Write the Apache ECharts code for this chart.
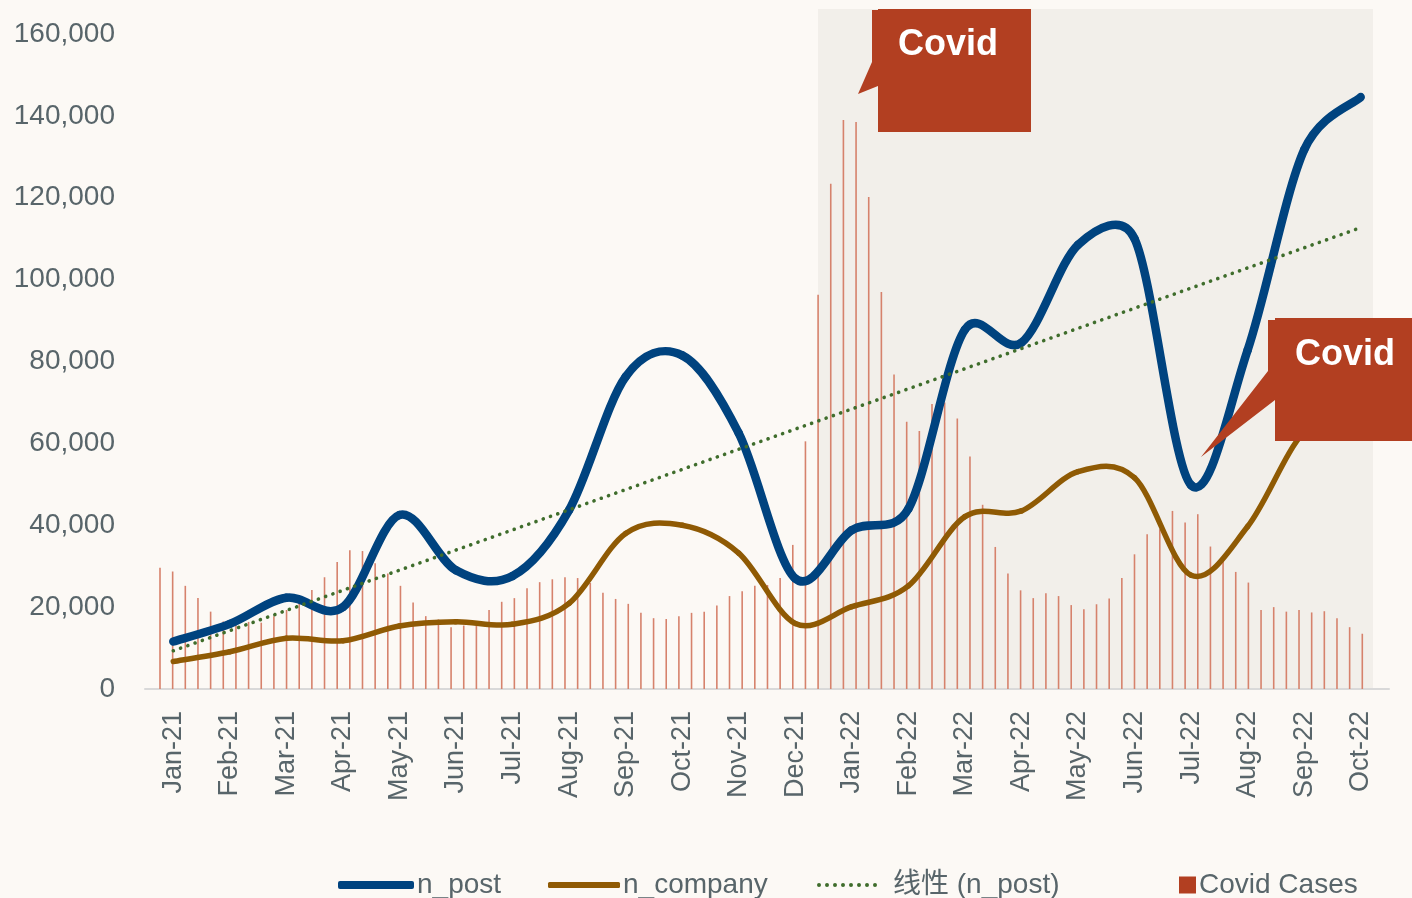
<!DOCTYPE html>
<html lang="en">
<head>
<meta charset="UTF-8">
<title>n_post / n_company and Covid cases</title>
<script src="https://cdn.jsdelivr.net/npm/echarts@6/dist/echarts.min.js"></script>
<style>
  html, body { margin: 0; padding: 0; background: #fcf9f5; }
  #chart { width: 1412px; height: 898px; }
</style>
</head>
<body>
<div id="chart"></div>
<script>
// monthly categories
const months = ['Jan-21', 'Feb-21', 'Mar-21', 'Apr-21', 'May-21', 'Jun-21', 'Jul-21', 'Aug-21',
  'Sep-21', 'Oct-21', 'Nov-21', 'Dec-21', 'Jan-22', 'Feb-22', 'Mar-22', 'Apr-22', 'May-22',
  'Jun-22', 'Jul-22', 'Aug-22', 'Sep-22', 'Oct-22'];

const nPost = [11600, 15900, 22300, 20000, 42500, 29000, 27600, 43700, 76300, 81500, 62500,
  27000, 38800, 44000, 87800, 84600, 108500, 110000, 49800, 82800, 131700, 144600];

const nCompany = [6700, 9100, 12400, 11800, 15400, 16400, 15800, 20900, 38000, 40000, 33200,
  16000, 20100, 25200, 42100, 43500, 53100, 51600, 27800, 39700, 62800, 68000];

// weekly covid cases (one bar per week, Jan-21 .. Oct-22)
const covidCases = [
  29600, 28700, 25200, 22200, 18900, 16500, 16000, 16400, 16200, 17800,
  19300, 21800, 24200, 27300, 31000, 33900, 33700, 30700, 28200, 25200,
  21100, 17800, 17000, 15100, 15500, 15500, 19300, 21300, 22200, 24600,
  26100, 26800, 27300, 27100, 25900, 23500, 22000, 20800, 18600, 17300,
  17100, 17800, 18600, 18900, 20400, 22700, 23900, 25200, 25400, 27100,
  35200, 60500, 96300, 123400, 139000, 138500, 120200, 97000, 76800, 65300,
  63000, 69600, 70000, 66100, 56800, 45000, 34700, 28200, 24100, 22200,
  23400, 22700, 20500, 19500, 20700, 22100, 27100, 32900, 37800, 39000,
  43500, 40700, 42700, 34800, 31500, 28600, 26000, 19300, 20000, 18900,
  19300, 18700, 19000, 17300, 15100, 13500
];

const yTicks = { min: 0, max: 160000, interval: 20000 };

// linear trend of n_post (like the spreadsheet trendline)
function linearTrend(vals) {
  const n = vals.length;
  let sx = 0, sy = 0, sxy = 0, sxx = 0;
  vals.forEach(function (v, i) { sx += i; sy += v; sxy += i * v; sxx += i * i; });
  const slope = (n * sxy - sx * sy) / (n * sxx - sx * sx);
  const icpt = (sy - slope * sx) / n;
  return vals.map(function (v, i) { return Math.round(icpt + slope * i); });
}
const trend = linearTrend(nPost);

const font = "'Liberation Sans', 'Noto Sans CJK SC', sans-serif";
const txtColor = '#58656a';
const red = '#b23f21';
const blue = '#00437f';
const brown = '#8f5a04';
const green = '#3f6d2c';

// row of dots for the trendline legend icon
let dots = 'path://';
for (let k = 0; k < 8; k++) {
  let cx = 2 + 8 * k;
  dots += 'M' + (cx - 2) + ',2a2,2 0 1,0 4,0a2,2 0 1,0 -4,0';
}

// spreadsheet-style smoothed line: one bezier per segment, control arms 1/6 of the
// neighbour chord, capped at half the segment length
function smoothLine(name, vals, color, width) {
  let last = vals.length - 1;
  return {
    name: name,
    type: 'custom',
    coordinateSystem: 'cartesian2d',
    data: vals.map(function (v, i) { return [i, v]; }),
    encode: { x: 0, y: 1 },
    itemStyle: { color: color },
    silent: true,
    z: 3,
    renderItem: function (params, api) {
      let i = params.dataIndex;
      if (i >= last) return null;
      function pt(k) {
        k = Math.max(0, Math.min(last, k));
        return api.coord([api.value(0, k), api.value(1, k)]);
      }
      let p0 = pt(i - 1), p1 = pt(i), p2 = pt(i + 1), p3 = pt(i + 2);
      let dist = function (a, b) { return Math.hypot(a[0] - b[0], a[1] - b[1]); };
      let d02 = dist(p0, p2), d12 = dist(p1, p2), d13 = dist(p1, p3);
      let f0 = 1 / 6, f1 = 1 / 6;
      if (d02 / 6 >= d12 / 2 && d02 > 0) f0 = d12 / d02 / 2;
      if (d13 / 6 >= d12 / 2 && d13 > 0) f1 = d12 / d13 / 2;
      return {
        type: 'bezierCurve',
        shape: {
          x1: p1[0], y1: p1[1], x2: p2[0], y2: p2[1],
          cpx1: p1[0] + f0 * (p2[0] - p0[0]), cpy1: p1[1] + f0 * (p2[1] - p0[1]),
          cpx2: p2[0] - f1 * (p3[0] - p1[0]), cpy2: p2[1] - f1 * (p3[1] - p1[1])
        },
        style: { stroke: color, lineWidth: width, fill: 'none', lineCap: 'round' }
      };
    }
  };
}

let chart = echarts.init(document.getElementById('chart'));

function callout(points, textX, textY) {
  return [
    { type: 'polygon', z: 100, shape: { points: points }, style: { fill: red } },
    { type: 'text', z: 101, x: textX, y: textY,
      style: { text: 'Covid', fill: '#ffffff', font: 'bold 36px ' + font, textVerticalAlign: 'middle' } }
  ];
}

let legendText = { fontFamily: font, fontSize: 28, color: txtColor, padding: [0, 0, 0, -2] };
let legendBase = { top: 866, orient: 'horizontal', selectedMode: false, itemGap: 0, textStyle: legendText };

let option = {
  backgroundColor: '#fcf9f5',
  animation: false,
  grid: { left: 145, right: 23, top: 34, bottom: 209, containLabel: false },
  legend: [
    Object.assign({}, legendBase, { left: 333, itemWidth: 76, itemHeight: 8,
      data: [{ name: 'n_post', icon: 'roundRect' }] }),
    Object.assign({}, legendBase, { left: 543, itemWidth: 72, itemHeight: 6,
      data: [{ name: 'n_company', icon: 'roundRect' }] }),
    Object.assign({}, legendBase, { left: 812, itemWidth: 62, itemHeight: 4,
      data: [{ name: '线性 (n_post)', icon: dots }],
      textStyle: Object.assign({}, legendText, { padding: [0, 0, 0, 10] }) }),
    Object.assign({}, legendBase, { left: 1174, itemWidth: 17, itemHeight: 17,
      data: [{ name: 'Covid Cases', icon: 'rect', itemStyle: { color: red } }] })
  ],
  xAxis: [
    {
      type: 'category',
      data: months,
      boundaryGap: true,
      axisLine: { lineStyle: { color: '#d9d9d9', width: 2 } },
      axisTick: { show: false },
      axisLabel: { rotate: 90, margin: 22, fontFamily: font, fontSize: 27, color: txtColor }
    },
    {
      // weekly positions for the covid bars
      type: 'value',
      position: 'top',
      min: -1.185,
      max: 97.11,
      show: false
    }
  ],
  yAxis: {
    type: 'value',
    min: yTicks.min,
    max: yTicks.max,
    interval: yTicks.interval,
    axisLine: { show: false },
    axisTick: { show: false },
    splitLine: { show: false },
    axisLabel: {
      margin: 30, fontFamily: font, fontSize: 28, color: txtColor,
      formatter: function (v) { return v.toLocaleString('en-US'); }
    }
  },
  series: [
    {
      name: 'Covid Cases',
      type: 'bar',
      xAxisIndex: 1,
      barWidth: 1.6,
      itemStyle: { color: '#d6826c' },
      data: covidCases.map(function (v, i) { return [i, v]; }),
      z: 1
    },
    smoothLine('n_post', nPost, blue, 8.5),
    smoothLine('n_company', nCompany, brown, 5.5),
    {
      name: '线性 (n_post)',
      type: 'line',
      data: trend,
      symbol: 'none',
      lineStyle: { color: green, width: 3.6, type: [0.1, 7.6], cap: 'round' },
      itemStyle: { color: green },
      z: 4
    }
  ],
  graphic: [
    // shaded covid period
    { type: 'rect', z: -1, shape: { x: 818, y: 9, width: 555, height: 680 }, style: { fill: '#f2efea' } }
  ]
    .concat(callout([[872, 10], [878, 10], [878, 9], [1031, 9], [1031, 132], [878, 132], [878, 86],
      [858, 94], [872, 62]], 898, 45))
    .concat(callout([[1268, 320], [1275, 320], [1275, 318], [1412, 318], [1412, 441], [1275, 441],
      [1275, 400], [1201, 457], [1268, 371]], 1295, 355))
};

chart.setOption(option);
</script>
</body>
</html>
